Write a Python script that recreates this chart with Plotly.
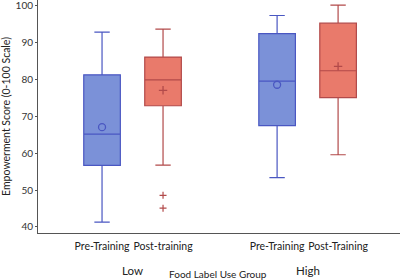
import plotly.graph_objects as go

groups = ["Low", "High"]
conditions = [["Pre-Training", "Post-training"], ["Pre-Training", "Post-Training"]]
q1 = [56.7, 72.9, 67.5, 75.1]
median = [65.2, 79.9, 79.6, 82.4]
q3 = [81.3, 86.1, 92.5, 95.3]
lower = [41.3, 56.8, 53.4, 59.6]
upper = [92.9, 93.7, 97.4, 100.2]
means = [67.1, 77.1, 78.6, 83.6]
outliers = [[], [48.6, 45.1], [], []]
y_ticks = [40, 50, 60, 70, 80, 90, 100]

fills = ["#7b91d8", "#e97a6b"]
lines = ["#4a57c2", "#b24a4a"]
mean_symbols = ["circle-open", "cross-thin-open"]

group_gap = 1.87
fig = go.Figure()
positions, ticktext = [], []
k = 0
for gi, g in enumerate(groups):
    for ci, cond in enumerate(conditions[gi]):
        pos = gi * (1 + group_gap) + ci
        positions.append(pos)
        ticktext.append(cond)
        fig.add_trace(go.Box(
            x=[pos], q1=[q1[k]], median=[median[k]], q3=[q3[k]],
            lowerfence=[lower[k]], upperfence=[upper[k]],
            width=0.6, whiskerwidth=0.42,
            fillcolor=fills[ci], line=dict(color=lines[ci], width=1.2),
            boxpoints=False, showlegend=False, hoverinfo="skip"))
        fig.add_trace(go.Scatter(
            x=[pos], y=[means[k]], mode="markers",
            marker=dict(symbol=mean_symbols[ci], size=7 if ci == 0 else 6,
                        color=lines[ci], line=dict(color=lines[ci], width=1.3)),
            showlegend=False, hoverinfo="skip"))
        if outliers[k]:
            fig.add_trace(go.Scatter(
                x=[pos] * len(outliers[k]), y=outliers[k], mode="markers",
                marker=dict(symbol="cross-thin-open", size=5,
                            color=lines[ci], line=dict(color=lines[ci], width=1.2)),
                showlegend=False, hoverinfo="skip"))
        k += 1

font = "Lato, Carlito, 'Open Sans', sans-serif"
fig.update_layout(
    width=400, height=280,
    margin=dict(l=38, r=0, t=0, b=47),
    plot_bgcolor="white", paper_bgcolor="white",
    font=dict(family=font, size=10, color="#333333"),
    xaxis=dict(range=[-1.05, positions[-1] + 1.015], automargin=False,
               tickvals=positions, ticktext=ticktext,
               showline=True, linecolor="#555555", linewidth=1,
               ticks="outside", ticklen=3, tickcolor="rgba(0,0,0,0)",
               showgrid=False, zeroline=False,
               tickfont=dict(size=10.5, color="#222222")),
    yaxis=dict(range=[38.37, 101.6], tickvals=y_ticks, automargin=False,
               showline=True, linecolor="#555555", linewidth=1,
               ticks="outside", ticklen=2, tickcolor="#555555",
               ticklabeloverflow="allow",
               showgrid=False, zeroline=False,
               tickfont=dict(size=10, color="#333333"),
               title=dict(text="Empowerment Score (0-100 Scale)", standoff=4,
                          font=dict(size=10.5, color="#222222"))),
)

for gi, g in enumerate(groups):
    gc = (positions[2 * gi] + positions[2 * gi + 1]) / 2
    fig.add_annotation(x=gc, y=-0.163, xref="x", yref="paper", text=g,
                       yanchor="middle", showarrow=False,
                       font=dict(size=11.5, color="#222222"))
fig.add_annotation(x=(positions[1] + positions[2]) / 2 - 0.03, y=-0.177, xref="x", yref="paper",
                   text="Food Label Use Group", yanchor="middle", showarrow=False,
                   font=dict(size=10, color="#222222"))

fig.write_html("out.html", config={"displayModeBar": False},
               post_script="document.body.style.margin='0';")
